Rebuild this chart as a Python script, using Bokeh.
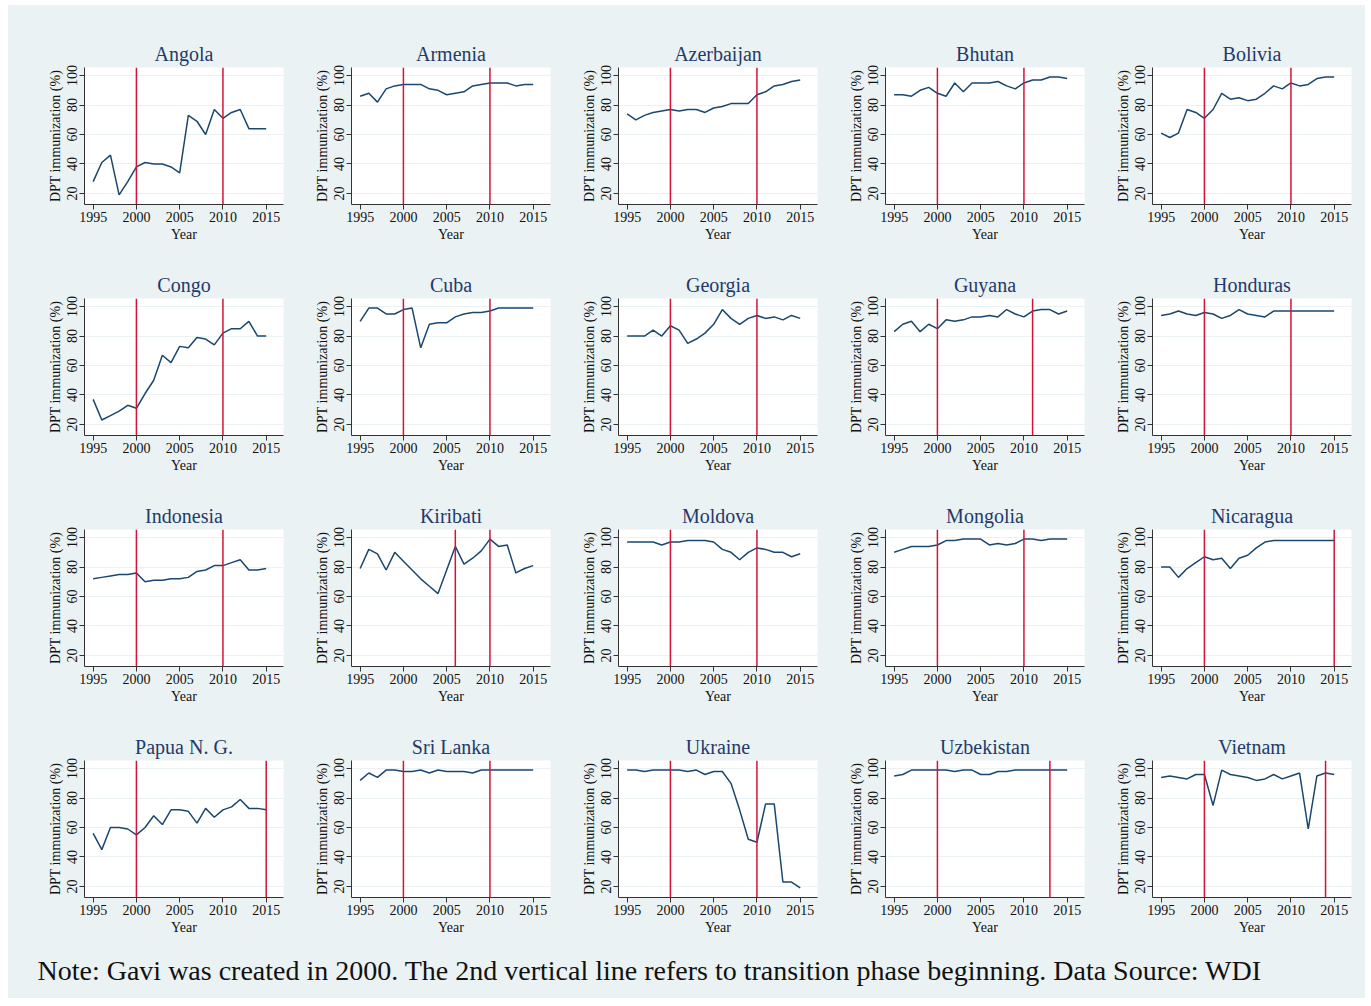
from bokeh.plotting import figure
from bokeh.layouts import column, row
from bokeh.models import Span, Range1d, FixedTicker, Label
from bokeh.embed import file_html
from bokeh.resources import INLINE

years = list(range(1995, 2016))

angola = [28, 41, 46, 19, 28, 38, 41, 40, 40, 38, 34, 73, 69, 60, 77, 71, 75, 77, 64, 64, 64]
armenia = [86, 88, 82, 91, 93, 94, 94, 94, 91, 90, 87, 88, 89, 93, 94, 95, 95, 95, 93, 94, 94]
azerbaijan = [74, 70, 73, 75, 76, 77, 76, 77, 77, 75, 78, 79, 81, 81, 81, 87, 89, 93, 94, 96, 97]
bhutan = [87, 87, 86, 90, 92, 88, 86, 95, 89, 95, 95, 95, 96, 93, 91, 95, 97, 97, 99, 99, 98]
bolivia = [61, 58, 61, 77, 75, 71, 77, 88, 84, 85, 83, 84, 88, 93, 91, 95, 93, 94, 98, 99, 99]
congo = [37, 23, 26, 29, 33, 31, 41, 50, 67, 62, 73, 72, 79, 78, 74, 82, 85, 85, 90, 80, 80]
cuba = [90, 99, 99, 95, 95, 98, 99, 72, 88, 89, 89, 93, 95, 96, 96, 97, 99, 99, 99, 99, 99]
georgia = [80, 80, 80, 84, 80, 87, 84, 75, 78, 82, 88, 98, 92, 88, 92, 94, 92, 93, 91, 94, 92]
guyana = [83, 88, 90, 83, 88, 85, 91, 90, 91, 93, 93, 94, 93, 98, 95, 93, 97, 98, 98, 95, 97]
honduras = [94, 95, 97, 95, 94, 96, 95, 92, 94, 98, 95, 94, 93, 97, 97, 97, 97, 97, 97, 97, 97]
indonesia = [72, 73, 74, 75, 75, 76, 70, 71, 71, 72, 72, 73, 77, 78, 81, 81, 83, 85, 78, 78, 79]
kiribati = [79, 92, 89, 78, 90, 84, 78, 72, 67, 62, 78, 94, 82, 86, 91, 99, 94, 95, 76, 79, 81]
moldova = [97, 97, 97, 97, 95, 97, 97, 98, 98, 98, 97, 92, 90, 85, 90, 93, 92, 90, 90, 87, 89]
mongolia = [90, 92, 94, 94, 94, 95, 98, 98, 99, 99, 99, 95, 96, 95, 96, 99, 99, 98, 99, 99, 99]
nicaragua = [80, 80, 73, 79, 83, 87, 85, 86, 79, 86, 88, 93, 97, 98, 98, 98, 98, 98, 98, 98, 98]
papua = [56, 45, 60, 60, 59, 55, 60, 68, 62, 72, 72, 71, 63, 73, 67, 72, 74, 79, 73, 73, 72]
srilanka = [92, 97, 94, 99, 99, 98, 98, 99, 97, 99, 98, 98, 98, 97, 99, 99, 99, 99, 99, 99, 99]
ukraine = [99, 99, 98, 99, 99, 99, 99, 98, 99, 96, 98, 98, 90, 72, 52, 50, 76, 76, 23, 23, 19]
uzbekistan = [95, 96, 99, 99, 99, 99, 99, 98, 99, 99, 96, 96, 98, 98, 99, 99, 99, 99, 99, 99, 99]
vietnam = [94, 95, 94, 93, 96, 96, 75, 99, 96, 95, 94, 92, 93, 96, 93, 95, 97, 59, 95, 97, 96]

countries = ["Angola", "Armenia", "Azerbaijan", "Bhutan", "Bolivia",
             "Congo", "Cuba", "Georgia", "Guyana", "Honduras",
             "Indonesia", "Kiribati", "Moldova", "Mongolia", "Nicaragua",
             "Papua N. G.", "Sri Lanka", "Ukraine", "Uzbekistan", "Vietnam"]
series = [angola, armenia, azerbaijan, bhutan, bolivia,
          congo, cuba, georgia, guyana, honduras,
          indonesia, kiribati, moldova, mongolia, nicaragua,
          papua, srilanka, ukraine, uzbekistan, vietnam]
first_line = [2000, 2000, 2000, 2000, 2000,
              2000, 2000, 2000, 2000, 2000,
              2000, 2006, 2000, 2000, 2000,
              2000, 2000, 2000, 2000, 2000]
second_line = [2010, 2010, 2010, 2010, 2010,
               2010, 2010, 2010, 2011, 2010,
               2010, 2010, 2010, 2010, 2015,
               2015, 2010, 2010, 2013, 2014]

x_ticks = [1995, 2000, 2005, 2010, 2015]
y_ticks = [20, 40, 60, 80, 100]
note_text = ("Note: Gavi was created in 2000. The 2nd vertical line refers to "
             "transition phase beginning. Data Source: WDI")

BG = "#EAF2F3"
LINE = "#1A476F"
RED = "#D2143A"
TITLE = "#1F3A6B"
FONT = "Liberation Serif"
TOTAL_W = 1357


def panel(i):
    col = i % 5
    r = i // 5
    w = 267
    left = 66
    right = 2
    if col == 0:
        w += 10
        left += 10
    if col == 4:
        w += 12
        right += 12
    h = 231
    top = 45
    if r == 0:
        h += 17
        top += 17
    p = figure(width=w, height=h, x_range=Range1d(1994, 2017), y_range=Range1d(12.5, 105.5),
               output_backend="svg", toolbar_location=None,
               min_border_left=left, min_border_right=right,
               min_border_top=top, min_border_bottom=49,
               background_fill_color="white", border_fill_color=BG,
               outline_line_color=None, title=countries[i])
    p.title.align = "center"
    p.title.text_font = FONT
    p.title.text_font_size = "20px"
    p.title.text_font_style = "normal"
    p.title.text_color = TITLE
    p.title.standoff = 6

    p.line(years, series[i], line_color=LINE, line_width=1.5)
    p.add_layout(Span(location=first_line[i], dimension="height", line_color=RED, line_width=1.5))
    p.add_layout(Span(location=second_line[i], dimension="height", line_color=RED, line_width=1.5))

    p.xaxis.ticker = FixedTicker(ticks=x_ticks)
    p.yaxis.ticker = FixedTicker(ticks=y_ticks)
    p.yaxis.major_label_orientation = "vertical"
    p.xaxis.axis_label = "Year"
    p.yaxis.axis_label = "DPT immunization (%)"
    for ax in (p.xaxis[0], p.yaxis[0]):
        ax.axis_label_text_font = FONT
        ax.axis_label_text_font_size = "14px"
        ax.axis_label_text_font_style = "normal"
        ax.axis_label_text_color = "#111111"
        ax.major_label_text_font = FONT
        ax.major_label_text_font_size = "14px"
        ax.major_label_text_color = "#111111"
        ax.axis_line_color = "#333333"
        ax.major_tick_line_color = "#333333"
        ax.major_tick_out = 5
        ax.major_tick_in = 0
        ax.minor_tick_line_color = None
        ax.major_label_standoff = 2
        ax.axis_label_standoff = 2
    p.xgrid.visible = False
    p.ygrid.grid_line_color = BG
    p.ygrid.grid_line_width = 1.2
    return p


rows = []
for r in range(4):
    rows.append(row([panel(r * 5 + c) for c in range(5)], spacing=0,
                    styles={"background-color": BG}))

note = figure(width=TOTAL_W, height=52, x_range=Range1d(0, 1), y_range=Range1d(0, 1),
              output_backend="svg", toolbar_location=None, min_border=0,
              background_fill_color=BG, border_fill_color=BG, outline_line_color=None)
note.axis.visible = False
note.grid.visible = False
note.add_layout(Label(x=29, y=28, x_units="screen", y_units="screen", text=note_text,
                      text_font=FONT, text_font_size="28px", text_color="#111111",
                      text_baseline="middle", text_align="left"))

layout = column(rows + [note], spacing=0,
                styles={"background-color": BG, "margin-left": "8px", "margin-top": "5px"})
open("out.html", "w").write(file_html(layout, INLINE))
